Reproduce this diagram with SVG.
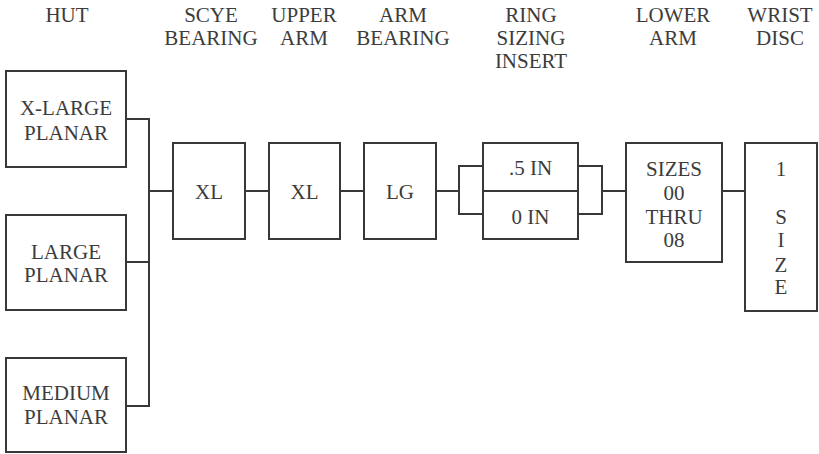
<svg xmlns="http://www.w3.org/2000/svg" width="819" height="454" viewBox="0 0 819 454">
<rect x="0" y="0" width="819" height="454" fill="#fff"/>
<g id="connectors" fill="none" stroke="#383838" stroke-width="2">
<path d="M126 119H149V406H126M126 262H149M149 191H173"/>
<path d="M245 191H269M340 191H364"/>
<path d="M436 191H459M483 166H459V214H483"/>
<path d="M578 166H602V214H578M602 191H626"/>
<path d="M722 191H745"/>
</g>
<g id="nodes" fill="#fff" stroke="#383838" stroke-width="2">
<rect id="hut-xl" x="6" y="71" width="120" height="96"/>
<rect id="hut-l" x="6" y="215" width="120" height="95"/>
<rect id="hut-m" x="6" y="358" width="120" height="94"/>
<rect id="scye" x="173" y="143" width="72" height="96"/>
<rect id="upper" x="269" y="143" width="71" height="96"/>
<rect id="armbearing" x="364" y="143" width="72" height="96"/>
<rect id="ring" x="483" y="143" width="95" height="96"/>
<path d="M483 191H578"/>
<rect id="lower" x="626" y="143" width="96" height="119"/>
<rect id="wrist" x="745" y="143" width="72" height="168"/>
</g>
<text font-family="Liberation Serif" font-size="21" fill="#3c3c3c" text-anchor="middle" x="67" y="22">HUT</text>
<text font-family="Liberation Serif" font-size="21" fill="#3c3c3c" text-anchor="middle" x="211" y="22">SCYE</text>
<text font-family="Liberation Serif" font-size="21" fill="#3c3c3c" text-anchor="middle" x="211" y="45">BEARING</text>
<text font-family="Liberation Serif" font-size="21" fill="#3c3c3c" text-anchor="middle" x="304" y="22">UPPER</text>
<text font-family="Liberation Serif" font-size="21" fill="#3c3c3c" text-anchor="middle" x="304" y="45">ARM</text>
<text font-family="Liberation Serif" font-size="21" fill="#3c3c3c" text-anchor="middle" x="403" y="22">ARM</text>
<text font-family="Liberation Serif" font-size="21" fill="#3c3c3c" text-anchor="middle" x="403" y="45">BEARING</text>
<text font-family="Liberation Serif" font-size="21" fill="#3c3c3c" text-anchor="middle" x="531" y="22">RING</text>
<text font-family="Liberation Serif" font-size="21" fill="#3c3c3c" text-anchor="middle" x="531" y="45">SIZING</text>
<text font-family="Liberation Serif" font-size="21" fill="#3c3c3c" text-anchor="middle" x="531" y="68">INSERT</text>
<text font-family="Liberation Serif" font-size="21" fill="#3c3c3c" text-anchor="middle" x="673" y="22">LOWER</text>
<text font-family="Liberation Serif" font-size="21" fill="#3c3c3c" text-anchor="middle" x="673" y="45">ARM</text>
<text font-family="Liberation Serif" font-size="21" fill="#3c3c3c" text-anchor="middle" x="780" y="22">WRIST</text>
<text font-family="Liberation Serif" font-size="21" fill="#3c3c3c" text-anchor="middle" x="780" y="45">DISC</text>
<text font-family="Liberation Serif" font-size="21" fill="#3c3c3c" text-anchor="middle" x="66" y="115">X-LARGE</text>
<text font-family="Liberation Serif" font-size="21" fill="#3c3c3c" text-anchor="middle" x="66" y="140">PLANAR</text>
<text font-family="Liberation Serif" font-size="21" fill="#3c3c3c" text-anchor="middle" x="66" y="259">LARGE</text>
<text font-family="Liberation Serif" font-size="21" fill="#3c3c3c" text-anchor="middle" x="66" y="282">PLANAR</text>
<text font-family="Liberation Serif" font-size="21" fill="#3c3c3c" text-anchor="middle" x="66" y="400">MEDIUM</text>
<text font-family="Liberation Serif" font-size="21" fill="#3c3c3c" text-anchor="middle" x="66" y="424">PLANAR</text>
<text font-family="Liberation Serif" font-size="21" fill="#3c3c3c" text-anchor="middle" x="209" y="199">XL</text>
<text font-family="Liberation Serif" font-size="21" fill="#3c3c3c" text-anchor="middle" x="304.5" y="199">XL</text>
<text font-family="Liberation Serif" font-size="21" fill="#3c3c3c" text-anchor="middle" x="400" y="199">LG</text>
<text font-family="Liberation Serif" font-size="21" fill="#3c3c3c" text-anchor="middle" x="530.5" y="175">.5 IN</text>
<text font-family="Liberation Serif" font-size="21" fill="#3c3c3c" text-anchor="middle" x="530.5" y="224">0 IN</text>
<text font-family="Liberation Serif" font-size="21" fill="#3c3c3c" text-anchor="middle" x="674" y="176">SIZES</text>
<text font-family="Liberation Serif" font-size="21" fill="#3c3c3c" text-anchor="middle" x="674" y="200">00</text>
<text font-family="Liberation Serif" font-size="21" fill="#3c3c3c" text-anchor="middle" x="674" y="224">THRU</text>
<text font-family="Liberation Serif" font-size="21" fill="#3c3c3c" text-anchor="middle" x="674" y="247">08</text>
<text font-family="Liberation Serif" font-size="21" fill="#3c3c3c" text-anchor="middle" x="781" y="176">1</text>
<text font-family="Liberation Serif" font-size="21" fill="#3c3c3c" text-anchor="middle" x="781" y="224">S</text>
<text font-family="Liberation Serif" font-size="21" fill="#3c3c3c" text-anchor="middle" x="781" y="247">I</text>
<text font-family="Liberation Serif" font-size="21" fill="#3c3c3c" text-anchor="middle" x="781" y="272">Z</text>
<text font-family="Liberation Serif" font-size="21" fill="#3c3c3c" text-anchor="middle" x="781" y="294">E</text>
</svg>
